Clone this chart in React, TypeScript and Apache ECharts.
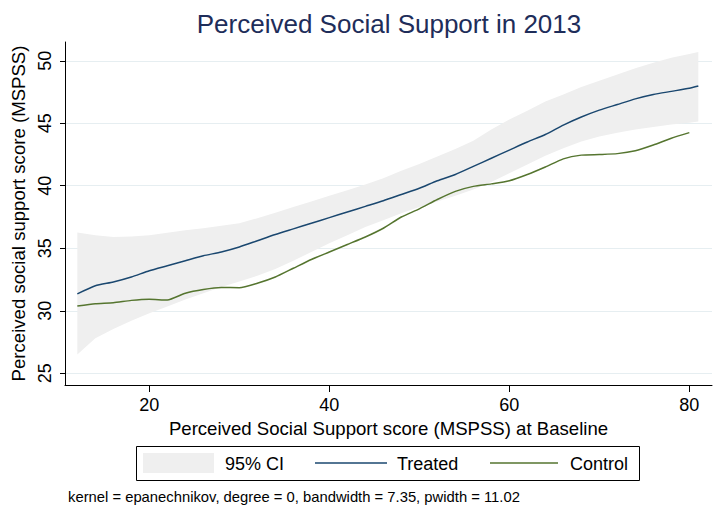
import React, { useEffect, useRef } from "react";
import * as echarts from "echarts";

// Baseline MSPSS grid on which the treated-group smooth and its band are evaluated
const treatedX = [12, 14, 16, 18, 20, 22, 24, 26, 28, 30, 32, 34, 36, 38, 40, 42, 44, 46, 48, 50, 52, 54, 56, 58, 60, 62, 64, 66, 68, 70, 72, 74, 76, 78, 80, 81];
const treated = [31.35, 32.0, 32.3, 32.7, 33.2, 33.6, 34.0, 34.4, 34.7, 35.1, 35.6, 36.1, 36.55, 37.0, 37.45, 37.9, 38.35, 38.8, 39.3, 39.8, 40.4, 40.9, 41.55, 42.2, 42.85, 43.5, 44.1, 44.85, 45.5, 46.05, 46.5, 46.95, 47.3, 47.55, 47.8, 47.98];
const ciUpper = [36.27, 36.05, 35.9, 35.95, 36.05, 36.25, 36.45, 36.6, 36.8, 37.0, 37.4, 37.85, 38.3, 38.75, 39.2, 39.65, 40.1, 40.6, 41.2, 41.75, 42.35, 42.95, 43.6, 44.5, 45.3, 46.0, 46.75, 47.3, 47.9, 48.4, 48.9, 49.4, 49.85, 50.25, 50.55, 50.7];
const ciLower = [26.5, 27.8, 28.55, 29.2, 29.8, 30.35, 30.9, 31.4, 31.9, 32.35, 32.8, 33.35, 34.0, 34.7, 35.4, 36.05, 36.7, 37.25, 37.8, 38.3, 38.75, 39.2, 39.7, 40.3, 41.0, 41.7, 42.4, 43.0, 43.55, 43.95, 44.25, 44.5, 44.7, 44.9, 45.05, 45.15];

// Control-group smooth
const controlX = [12, 14, 16, 18, 20, 22, 24, 26, 28, 30, 32, 34, 36, 38, 40, 42, 44, 46, 48, 50, 52, 54, 56, 58, 60, 62, 64, 66, 68, 70, 72, 74, 76, 78, 80];
const control = [30.38, 30.56, 30.64, 30.83, 30.92, 30.86, 31.4, 31.7, 31.86, 31.84, 32.2, 32.7, 33.4, 34.1, 34.7, 35.3, 35.9, 36.6, 37.5, 38.15, 38.9, 39.55, 39.95, 40.15, 40.4, 40.9, 41.5, 42.15, 42.45, 42.5, 42.57, 42.8, 43.26, 43.8, 44.25];

const xTicks = [20, 40, 60, 80];
const yTicks = [25, 30, 35, 40, 45, 50];

const FONT = '"Liberation Sans", Arial, Helvetica, sans-serif';
const NAVY = "#1a476f";
const GREEN = "#55752f";
const BAND = "#efefef";
const GRID = "#e6eef1";

export default function App() {
  const ref = useRef<HTMLDivElement>(null);

  useEffect(() => {
    if (!ref.current) return;
    const chart = echarts.init(ref.current, undefined, { renderer: "svg" });

    const bandData = treatedX.map((x, i) => [x, ciLower[i], ciUpper[i]]);

    chart.setOption({
      animation: false,
      backgroundColor: "#ffffff",
      title: {
        text: "Perceived Social Support in 2013",
        left: 384,
        top: 6,
        textAlign: "center",
        textStyle: { fontFamily: FONT, fontSize: 26, fontWeight: "normal", color: "#1e2d5a" },
      },
      grid: { left: 65, right: 9, top: 42, bottom: 125, containLabel: false },
      xAxis: {
        type: "value",
        min: 10.63,
        max: 82.52,
        name: "Perceived Social Support score (MSPSS) at Baseline",
        nameLocation: "middle",
        nameGap: 23,
        nameTextStyle: { fontFamily: FONT, fontSize: 18.6, color: "#000" },
        axisLine: { show: true, onZero: false, lineStyle: { color: "#000", width: 1 } },
        axisTick: { show: true, length: 7, customValues: xTicks, lineStyle: { color: "#000" } },
        axisLabel: { customValues: xTicks, margin: 11, fontFamily: FONT, fontSize: 18, color: "#000" },
        splitLine: { show: false },
      },
      yAxis: {
        type: "value",
        min: 24.06,
        max: 51.5,
        name: "Perceived social support score (MSPSS)",
        nameLocation: "middle",
        nameGap: 27,
        nameTextStyle: { fontFamily: FONT, fontSize: 18.6, color: "#000" },
        axisLine: { show: true, onZero: false, lineStyle: { color: "#000", width: 1 } },
        axisTick: { show: true, length: 5, customValues: yTicks, lineStyle: { color: "#000" } },
        axisLabel: { customValues: yTicks, rotate: 90, margin: 11, fontFamily: FONT, fontSize: 18, color: "#000" },
        splitLine: { show: true, lineStyle: { color: GRID, width: 1 } },
      },
      series: [
        {
          name: "95% CI",
          type: "custom",
          z: 1,
          data: bandData,
          encode: { x: 0, y: [1, 2] },
          renderItem: (params: any, api: any) => {
            if (params.dataIndex !== 0) return null;
            const upper = treatedX.map((x, i) => api.coord([x, ciUpper[i]]));
            const lower = treatedX.map((x, i) => api.coord([x, ciLower[i]])).reverse();
            return {
              type: "polygon",
              shape: { points: upper.concat(lower) },
              style: { fill: BAND, stroke: "none" },
            };
          },
        },
        {
          name: "Treated",
          type: "line",
          z: 3,
          data: treatedX.map((x, i) => [x, treated[i]]),
          showSymbol: false,
          symbol: "none",
          smooth: 0.2,
          lineStyle: { color: NAVY, width: 1.5 },
        },
        {
          name: "Control",
          type: "line",
          z: 3,
          data: controlX.map((x, i) => [x, control[i]]),
          showSymbol: false,
          symbol: "none",
          smooth: 0.2,
          lineStyle: { color: GREEN, width: 1.5 },
        },
      ],
      graphic: [
        {
          type: "group",
          children: [
            { type: "rect", shape: { x: 136.5, y: 446.5, width: 503, height: 34 }, style: { fill: "#fff", stroke: "#000", lineWidth: 1 } },
            { type: "rect", shape: { x: 143, y: 453, width: 71, height: 20 }, style: { fill: BAND } },
            { type: "text", x: 225, y: 463.5, style: { text: "95% CI", font: `18px ${FONT}`, fill: "#000", textVerticalAlign: "middle" } },
            { type: "line", shape: { x1: 315, y1: 463, x2: 387, y2: 463 }, style: { stroke: NAVY, lineWidth: 1.5 } },
            { type: "text", x: 397, y: 463.5, style: { text: "Treated", font: `18px ${FONT}`, fill: "#000", textVerticalAlign: "middle" } },
            { type: "line", shape: { x1: 490, y1: 463, x2: 558, y2: 463 }, style: { stroke: GREEN, lineWidth: 1.5 } },
            { type: "text", x: 570, y: 463.5, style: { text: "Control", font: `18px ${FONT}`, fill: "#000", textVerticalAlign: "middle" } },
          ],
        },
        {
          type: "text",
          x: 68,
          y: 497,
          style: {
            text: "kernel = epanechnikov, degree = 0, bandwidth = 7.35, pwidth = 11.02",
            font: `14.8px ${FONT}`,
            fill: "#000",
            textVerticalAlign: "middle",
          },
        },
      ],
    });

    return () => chart.dispose();
  }, []);

  return <div ref={ref} style={{ width: 721, height: 510, position: "absolute", left: 0, top: 0 }} />;
}
